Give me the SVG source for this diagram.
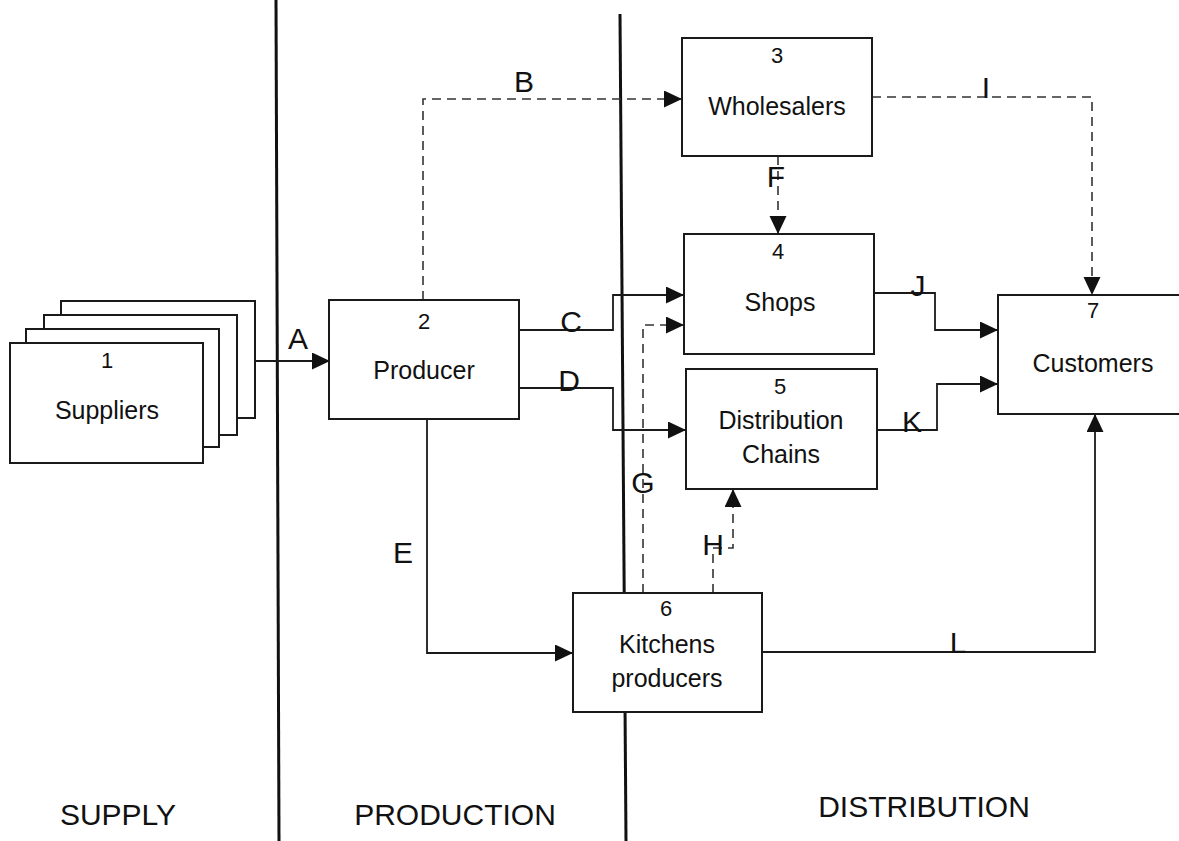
<svg xmlns="http://www.w3.org/2000/svg" width="1179" height="841" viewBox="0 0 1179 841">
<defs>
<style>
.box{fill:#fff;stroke:#1a1a1a;stroke-width:2}
.ln{fill:none;stroke:#1a1a1a;stroke-width:1.8}
.dash{fill:none;stroke:#333;stroke-width:1.6;stroke-dasharray:9 6}
.div{fill:none;stroke:#111;stroke-width:3}
.num{font-family:"Liberation Sans",Arial,sans-serif;font-size:22px;fill:#111;text-anchor:middle}
.lbl{font-family:"Liberation Sans",Arial,sans-serif;font-size:25px;fill:#111;text-anchor:middle}
.let{font-family:"Liberation Sans",Arial,sans-serif;font-size:30px;fill:#111;text-anchor:middle}
.sec{font-family:"Liberation Sans",Arial,sans-serif;font-size:30px;fill:#111;text-anchor:middle}
</style>
<marker id="arr" markerUnits="userSpaceOnUse" markerWidth="18" markerHeight="18" refX="18" refY="8.5" orient="auto">
<path d="M0,0 L18,8.5 L0,17 z" fill="#111"/>
</marker>
</defs>
<rect width="1179" height="841" fill="#fff"/>

<g id="dividers">
<line class="div" x1="276" y1="0" x2="279" y2="841"/>
<line class="div" x1="620" y1="14" x2="626" y2="841"/>
</g>

<g id="connectors">
<path class="ln" d="M255,361 H330" marker-end="url(#arr)"/>
<path class="dash" d="M423,300 V99 H682" marker-end="url(#arr)"/>
<path class="ln" d="M520,330 H613 V295 H684" marker-end="url(#arr)"/>
<path class="ln" d="M520,388 H613 V430 H686" marker-end="url(#arr)"/>
<path class="ln" d="M427,419 V653 H573" marker-end="url(#arr)"/>
<path class="dash" d="M778,156 V234" marker-end="url(#arr)"/>
<path class="dash" d="M643,593 V325 H684" marker-end="url(#arr)"/>
<path class="dash" d="M713,593 V548 H733 V489" marker-end="url(#arr)"/>
<path class="dash" d="M872,97 H1092 V295" marker-end="url(#arr)"/>
<path class="ln" d="M874,293 H935 V330 H998" marker-end="url(#arr)"/>
<path class="ln" d="M877,430 H937 V384 H998" marker-end="url(#arr)"/>
<path class="ln" d="M762,652 H1095 V414" marker-end="url(#arr)"/>
<text class="let" x="298" y="349">A</text>
<text class="let" x="524" y="92">B</text>
<text class="let" x="571" y="332">C</text>
<text class="let" x="569" y="391">D</text>
<text class="let" x="403" y="563">E</text>
<text class="let" x="776" y="187">F</text>
<text class="let" x="643" y="493">G</text>
<text class="let" x="713" y="555">H</text>
<text class="let" x="986" y="98">I</text>
<text class="let" x="918" y="296">J</text>
<text class="let" x="912" y="432">K</text>
<text class="let" x="958" y="653">L</text>
</g>

<g id="suppliers">
<rect class="box" x="61" y="301" width="194" height="117"/>
<rect class="box" x="44" y="315" width="193" height="120"/>
<rect class="box" x="26" y="329" width="193" height="118"/>
<rect class="box" x="10" y="343" width="193" height="120"/>
<text class="num" x="107" y="368">1</text>
<text class="lbl" x="107" y="419">Suppliers</text>
</g>

<g id="producer">
<rect class="box" x="329" y="300" width="190" height="119"/>
<text class="num" x="424" y="329">2</text>
<text class="lbl" x="424" y="379">Producer</text>
</g>

<g id="wholesalers">
<rect class="box" x="682" y="38" width="190" height="118"/>
<text class="num" x="777" y="63">3</text>
<text class="lbl" x="777" y="115">Wholesalers</text>
</g>

<g id="shops">
<rect class="box" x="684" y="234" width="190" height="120"/>
<text class="num" x="778" y="259">4</text>
<text class="lbl" x="780" y="311">Shops</text>
</g>

<g id="distribution-chains">
<rect class="box" x="686" y="369" width="191" height="120"/>
<text class="num" x="780" y="394">5</text>
<text class="lbl" x="781" y="429">Distribution</text>
<text class="lbl" x="781" y="463">Chains</text>
</g>

<g id="kitchens-producers">
<rect class="box" x="573" y="593" width="189" height="119"/>
<text class="num" x="666" y="616">6</text>
<text class="lbl" x="667" y="653">Kitchens</text>
<text class="lbl" x="667" y="687">producers</text>
</g>

<g id="customers">
<path class="box" d="M1185,295 H998 V414 H1185"/>
<text class="num" x="1093" y="318">7</text>
<text class="lbl" x="1093" y="372">Customers</text>
</g>

<g id="sections">
<text class="sec" x="118" y="825">SUPPLY</text>
<text class="sec" x="455" y="825">PRODUCTION</text>
<text class="sec" x="924" y="817">DISTRIBUTION</text>
</g>
</svg>
